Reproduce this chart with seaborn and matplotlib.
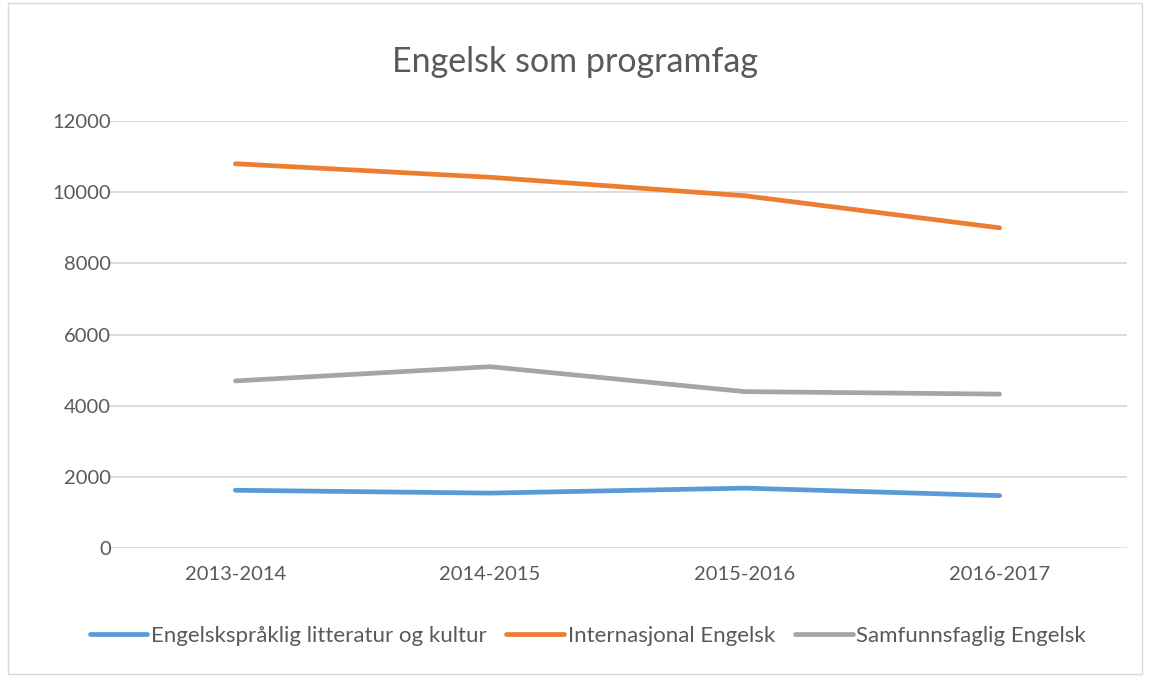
import seaborn as sns
import matplotlib.pyplot as plt
import pandas as pd
from matplotlib.patches import Rectangle

# data
years = ['2013-2014', '2014-2015', '2015-2016', '2016-2017']
litteratur = [1630, 1550, 1690, 1480]
internasjonal = [10800, 10420, 9900, 9000]
samfunnsfaglig = [4700, 5100, 4400, 4330]
series_names = ['Engelskspråklig litteratur og kultur', 'Internasjonal Engelsk', 'Samfunnsfaglig Engelsk']

df = pd.DataFrame({
    'year': years * 3,
    'value': litteratur + internasjonal + samfunnsfaglig,
    'serie': [series_names[0]] * 4 + [series_names[1]] * 4 + [series_names[2]] * 4,
})

sns.set_style('white')
plt.rcParams['font.family'] = ['Lato', 'DejaVu Sans']
text_col = '#595959'

fig = plt.figure(figsize=(11.5, 6.77), dpi=100)
ax = fig.add_axes([108 / 1150, 1 - 548.3 / 677, (1127 - 108) / 1150, (548.3 - 121) / 677])

palette = {series_names[0]: '#5B9BD5', series_names[1]: '#ED7D31', series_names[2]: '#A5A5A5'}
sns.lineplot(data=df, x='year', y='value', hue='serie', palette=palette, sort=False,
             linewidth=3.4, ax=ax, legend=True)
for ln in ax.get_lines():
    ln.set_solid_capstyle('round')
    ln.set_solid_joinstyle('round')

ax.set_xlim(-0.5, 3.5)
ax.set_ylim(0, 12000)
ax.set_yticks(range(0, 12001, 2000))
ax.grid(axis='y', color='#d9d9d9', linewidth=1.3)
ax.set_axisbelow(True)
for s in ax.spines.values():
    s.set_visible(False)
ax.tick_params(axis='both', length=0, labelsize=14.5, colors=text_col)
ax.tick_params(axis='y', pad=-2)
ax.tick_params(axis='x', pad=13)
ax.set_xlabel('')
ax.set_ylabel('')

fig.suptitle('Engelsk som programfag', y=1 - 62 / 677, va='center', fontsize=24.5, color=text_col)

handles, labels = ax.get_legend_handles_labels()
ax.legend_.remove()
fig.legend(handles, labels, loc='center', bbox_to_anchor=(0.511, 1 - 636 / 677), ncol=3,
           frameon=False, fontsize=16, labelcolor=text_col, handlelength=2.6,
           columnspacing=0.9, handletextpad=0.15)

# chart border
fig.patches.append(Rectangle((8 / 1150, 0.005), 1 - 16 / 1150, 0.99, transform=fig.transFigure,
                             fill=False, edgecolor='#d9d9d9', linewidth=1))

fig.savefig('out.png', dpi=100)
